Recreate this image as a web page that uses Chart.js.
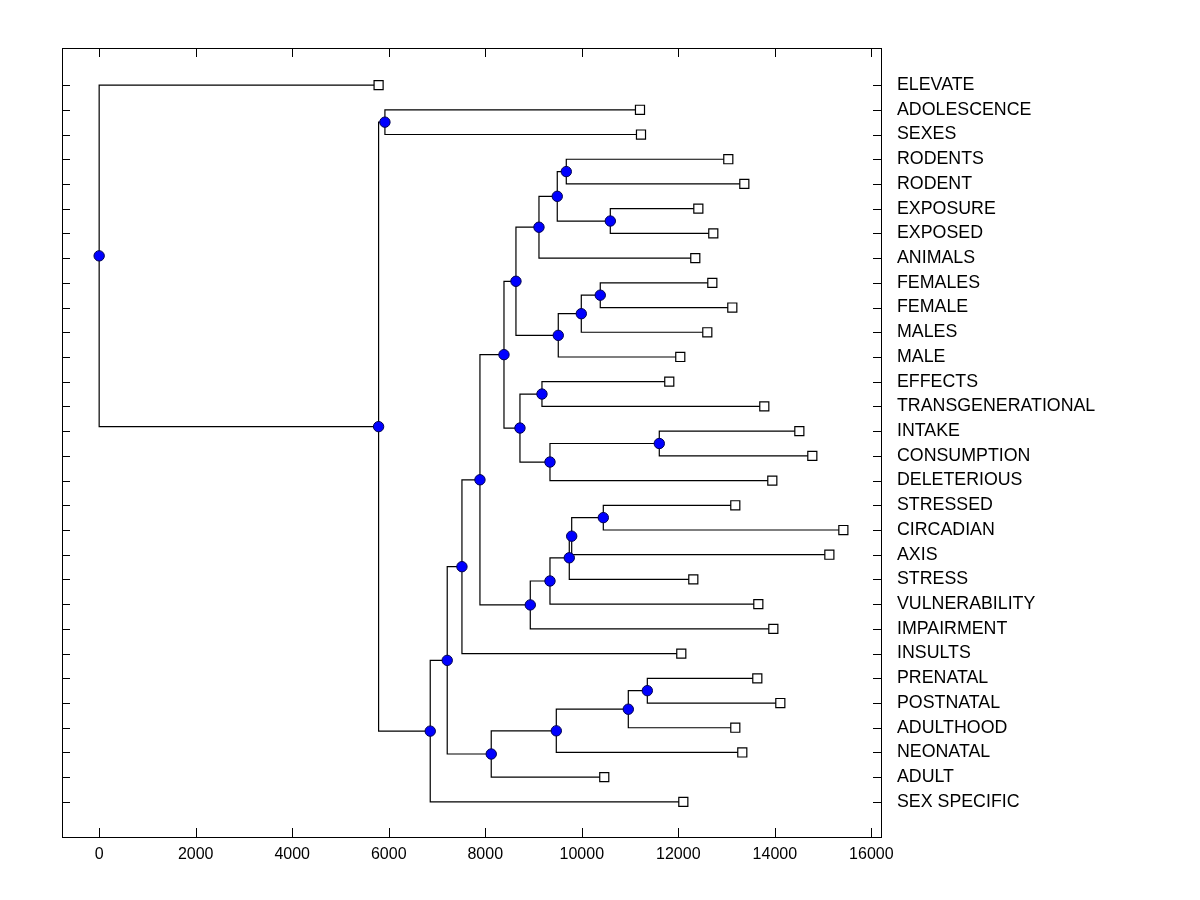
<!DOCTYPE html>
<html>
<head>
<meta charset="utf-8">
<script src="https://cdn.jsdelivr.net/npm/chart.js@4.4.1/dist/chart.umd.min.js"></script>
<style>
  body { margin: 0; background: #fff; }
  canvas { display: block; }
</style>
</head>
<body>
<canvas id="chart" width="1200" height="900"></canvas>
<script>
// leaves, top to bottom
const leafLabels = [
  "ELEVATE", "ADOLESCENCE", "SEXES", "RODENTS", "RODENT", "EXPOSURE",
  "EXPOSED", "ANIMALS", "FEMALES", "FEMALE", "MALES", "MALE", "EFFECTS",
  "TRANSGENERATIONAL", "INTAKE", "CONSUMPTION", "DELETERIOUS", "STRESSED",
  "CIRCADIAN", "AXIS", "STRESS", "VULNERABILITY", "IMPAIRMENT", "INSULTS",
  "PRENATAL", "POSTNATAL", "ADULTHOOD", "NEONATAL", "ADULT", "SEX SPECIFIC",
];
const leafValues = [
  5790, 11206, 11227, 13036, 13368, 12415, 12725, 12352, 12705, 13119,
  12601, 12041, 11813, 13782, 14508, 14777, 13948, 13181, 15420, 15130,
  12311, 13658, 13969, 12062, 13637, 14114, 13181, 13326, 10466, 12104,
];

// merges: node 30 + k joins mergeLeft[k] and mergeRight[k] at mergeValues[k]
const mergeLeft = [3, 5, 30, 32, 8, 34, 35, 33, 12, 14, 39, 38, 37, 17, 43,
  44, 45, 46, 42, 48, 24, 50, 51, 52, 49, 54, 1, 56, 0];
const mergeRight = [4, 6, 31, 7, 9, 10, 11, 36, 13, 15, 16, 40, 41, 18, 19,
  20, 21, 22, 47, 23, 25, 26, 27, 28, 53, 29, 2, 55, 57];
const mergeValues = [9679, 10591, 9492, 9113, 10383, 9990, 9513, 8636, 9175,
  11606, 9341, 8719, 8388, 10446, 9791, 9741, 9341, 8933, 7890, 7517, 11358,
  10964, 9472, 8124, 7212, 6860, 5921, 5790, 0];

const xTicks = [0, 2000, 4000, 6000, 8000, 10000, 12000, 14000, 16000];

// node positions
const nodes = leafValues.map((v, i) => ({ x: v, y: i }));
mergeValues.forEach((v, k) => {
  const a = nodes[mergeLeft[k]], b = nodes[mergeRight[k]];
  nodes.push({ x: v, y: (a.y + b.y) / 2 });
});

const edgeSets = mergeValues.map((v, k) => {
  const a = nodes[mergeLeft[k]], b = nodes[mergeRight[k]];
  return {
    type: "scatter",
    showLine: true,
    data: [{ x: a.x, y: a.y }, { x: v, y: a.y }, { x: v, y: b.y }, { x: b.x, y: b.y }],
    borderColor: "#000",
    borderWidth: 1.2,
    pointRadius: 0,
    order: 2,
  };
});

const boxTicks = {
  id: "boxTicks",
  afterDraw(chart) {
    const { ctx, chartArea: a, scales } = chart;
    ctx.save();
    ctx.strokeStyle = "#000";
    ctx.lineWidth = 1;
    ctx.beginPath();
    xTicks.forEach((t) => {
      const px = Math.round(scales.x.getPixelForValue(t)) + 0.5;
      ctx.moveTo(px, a.bottom); ctx.lineTo(px, a.bottom - 9);
      ctx.moveTo(px, a.top); ctx.lineTo(px, a.top + 9);
    });
    leafLabels.forEach((_, i) => {
      const py = Math.round(scales.y.getPixelForValue(i)) + 0.5;
      ctx.moveTo(a.left, py); ctx.lineTo(a.left + 8, py);
      ctx.moveTo(a.right, py); ctx.lineTo(a.right - 8, py);
    });
    ctx.stroke();
    ctx.strokeRect(Math.round(a.left) + 0.5, Math.round(a.top) + 0.5,
      Math.round(a.right - a.left), Math.round(a.bottom - a.top));
    ctx.restore();
  },
};

const ctx = document.getElementById("chart").getContext("2d");
new Chart(ctx, {
  type: "scatter",
  data: {
    datasets: [
      {
        data: nodes.slice(leafValues.length),
        pointStyle: "circle",
        pointRadius: 5.2,
        backgroundColor: "#0000ff",
        borderColor: "#000050",
        borderWidth: 1,
        order: 0,
      },
      {
        data: nodes.slice(0, leafValues.length),
        pointStyle: "rect",
        pointRadius: 6.4,
        backgroundColor: "#fff",
        borderColor: "#000",
        borderWidth: 1.2,
        order: 1,
      },
      ...edgeSets,
    ],
  },
  options: {
    responsive: false,
    animation: false,
    layout: { padding: { left: 62, top: 48, right: 0, bottom: 0 } },
    plugins: { legend: { display: false }, tooltip: { enabled: false } },
    scales: {
      x: {
        type: "linear",
        position: "bottom",
        min: -770,
        max: 16200,
        afterBuildTicks: (s) => { s.ticks = xTicks.map((v) => ({ value: v })); },
        afterFit: (s) => { s.height = 63; },
        grid: { display: false, drawTicks: false },
        border: { display: false },
        ticks: {
          padding: 8,
          color: "#000",
          font: { family: "Liberation Sans, Arial, sans-serif", size: 16 },
          callback: (v) => String(v),
        },
      },
      y: {
        type: "linear",
        position: "right",
        reverse: true,
        min: -1.5,
        max: 30.42,
        afterBuildTicks: (s) => { s.ticks = leafLabels.map((_, i) => ({ value: i })); },
        afterFit: (s) => { s.width = 319; },
        grid: { display: false, drawTicks: false },
        border: { display: false },
        ticks: {
          autoSkip: false,
          padding: 16,
          color: "#000",
          font: { family: "Liberation Sans, Arial, sans-serif", size: 17.8 },
          callback: (v) => leafLabels[v],
        },
      },
    },
  },
  plugins: [boxTicks],
});
</script>
</body>
</html>
